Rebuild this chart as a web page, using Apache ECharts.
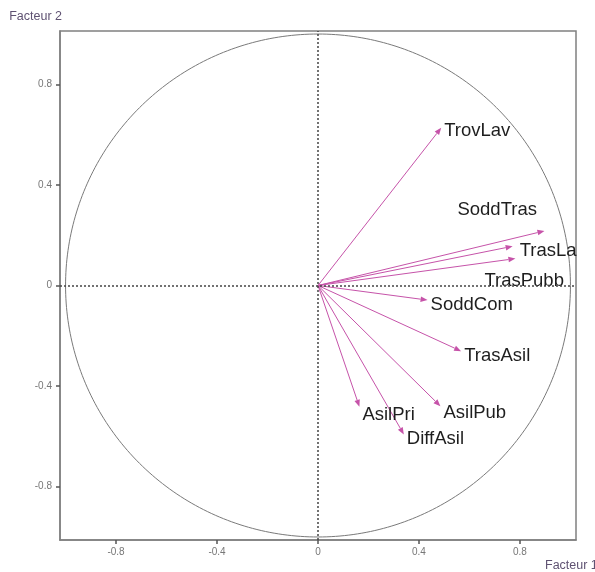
<!DOCTYPE html>
<html>
<head>
<meta charset="utf-8">
<script src="https://cdn.jsdelivr.net/npm/echarts@6/dist/echarts.min.js"></script>
<style>
  html, body { margin: 0; padding: 0; background: #ffffff; }
  #chart { width: 595px; height: 572px; }
</style>
</head>
<body>
<div id="chart"></div>
<script>
// Correlation circle: variable loadings on factors 1 and 2
const varNames = ['TrovLav', 'SoddTras', 'TrasLav', 'TrasPubb', 'SoddCom', 'TrasAsil', 'AsilPri', 'AsilPub', 'DiffAsil'];
const factor1  = [0.488, 0.897, 0.771, 0.782, 0.434, 0.567, 0.164, 0.485, 0.340];
const factor2  = [0.627, 0.217, 0.156, 0.107, -0.058, -0.261, -0.482, -0.480, -0.592];
const tickValues = [-0.8, -0.4, 0, 0.4, 0.8];

// label nudges (px) so crowded names don't collide
const labelNudge = {
  SoddTras: [-90, -21],
  TrasLav: [4, 5],
  TrasPubb: [-34, 22],
  TrovLav: [0, 3],
  AsilPri: [0, 8],
  AsilPub: [0, 7]
};

const arrowColor = '#c653a9';
const frameColor = '#808080';
const tickLabelColor = '#777777';
const axisNameColor = '#5f5272';
const fontFamily = 'Liberation Sans, Arial, sans-serif';

const chart = echarts.init(document.getElementById('chart'), null, { renderer: 'canvas' });

const axisCommon = {
  type: 'value',
  splitLine: { show: false },
  axisLine: { show: true, onZero: false, lineStyle: { color: frameColor, width: 1.5 } },
  axisTick: { show: true, customValues: tickValues, length: 4, lineStyle: { color: '#555', width: 1.5 } },
  axisLabel: {
    customValues: tickValues,
    color: tickLabelColor,
    fontSize: 10,
    fontFamily: fontFamily,
    formatter: v => String(v)
  }
};

// arrow from the origin to a loading, with a small filled head
function renderArrow(params, api) {
  const p0 = api.coord([0, 0]);
  const p1 = api.coord([api.value(0), api.value(1)]);
  const dx = p1[0] - p0[0], dy = p1[1] - p0[1];
  const len = Math.sqrt(dx * dx + dy * dy) || 1;
  const ux = dx / len, uy = dy / len;
  const headLen = 7, headHalf = 2.8;
  const bx = p1[0] - ux * headLen, by = p1[1] - uy * headLen;
  return {
    type: 'group',
    children: [
      {
        type: 'line',
        shape: { x1: p0[0], y1: p0[1], x2: bx, y2: by },
        style: { stroke: arrowColor, lineWidth: 1 }
      },
      {
        type: 'polygon',
        shape: { points: [p1, [bx - uy * headHalf, by + ux * headHalf], [bx + uy * headHalf, by - ux * headHalf]] },
        style: { fill: arrowColor, stroke: null }
      }
    ]
  };
}

chart.setOption({
  animation: false,
  backgroundColor: '#ffffff',
  grid: {
    left: 60, right: 19, top: 31, bottom: 32,
    show: true, borderColor: frameColor, borderWidth: 1.5,
    containLabel: false,
    outerBoundsMode: 'none'
  },
  xAxis: Object.assign({}, axisCommon, {
    min: -1.022, max: 1.022,
    name: 'Facteur 1',
    nameLocation: 'end',
    nameGap: -31,
    nameTextStyle: {
      color: axisNameColor, fontSize: 12.5, fontFamily: fontFamily,
      verticalAlign: 'top', padding: [19, 0, 0, 0]
    },
    axisLabel: Object.assign({}, axisCommon.axisLabel, { margin: 7 })
  }),
  yAxis: Object.assign({}, axisCommon, {
    min: -1.012, max: 1.012,
    name: 'Facteur 2',
    nameLocation: 'end',
    nameGap: 8,
    nameTextStyle: {
      color: axisNameColor, fontSize: 12.5, fontFamily: fontFamily,
      align: 'right', padding: [0, -2, 0, 0]
    },
    axisLabel: Object.assign({}, axisCommon.axisLabel, { margin: 8 })
  }),
  series: [
    {
      // unit circle plus the dotted zero axes
      type: 'custom',
      silent: true,
      data: [[0, 0]],
      renderItem: function (params, api) {
        const pts = [];
        for (let k = 0; k <= 360; k++) {
          const a = k * Math.PI / 180;
          pts.push(api.coord([Math.cos(a), Math.sin(a)]));
        }
        return {
          type: 'polyline',
          shape: { points: pts },
          style: { stroke: '#7a7a7a', lineWidth: 1, fill: null }
        };
      },
      markLine: {
        silent: true,
        symbol: 'none',
        label: { show: false },
        lineStyle: { type: [2, 2], color: '#444444', width: 1.5 },
        data: [{ xAxis: 0 }, { yAxis: 0 }]
      },
      z: 1
    },
    {
      type: 'custom',
      silent: true,
      renderItem: renderArrow,
      encode: { x: 0, y: 1 },
      data: varNames.map((n, i) => ({ name: n, value: [factor1[i], factor2[i]] })),
      z: 3
    },
    {
      type: 'scatter',
      silent: true,
      symbolSize: 0,
      itemStyle: { opacity: 1 },
      label: {
        show: true,
        position: 'right',
        distance: 3,
        formatter: '{b}',
        fontSize: 18.5,
        color: '#1e1e1e',
        opacity: 1,
        fontFamily: fontFamily
      },
      data: varNames.map((n, i) => ({
        name: n,
        value: [factor1[i], factor2[i]],
        // TrasLav runs into the frame and is cut there
        label: n === 'TrasLav'
          ? { offset: labelNudge[n], width: 58, overflow: 'truncate', ellipsis: '' }
          : { offset: labelNudge[n] || [0, 5] }
      })),
      z: 4
    }
  ]
});
</script>
</body>
</html>
